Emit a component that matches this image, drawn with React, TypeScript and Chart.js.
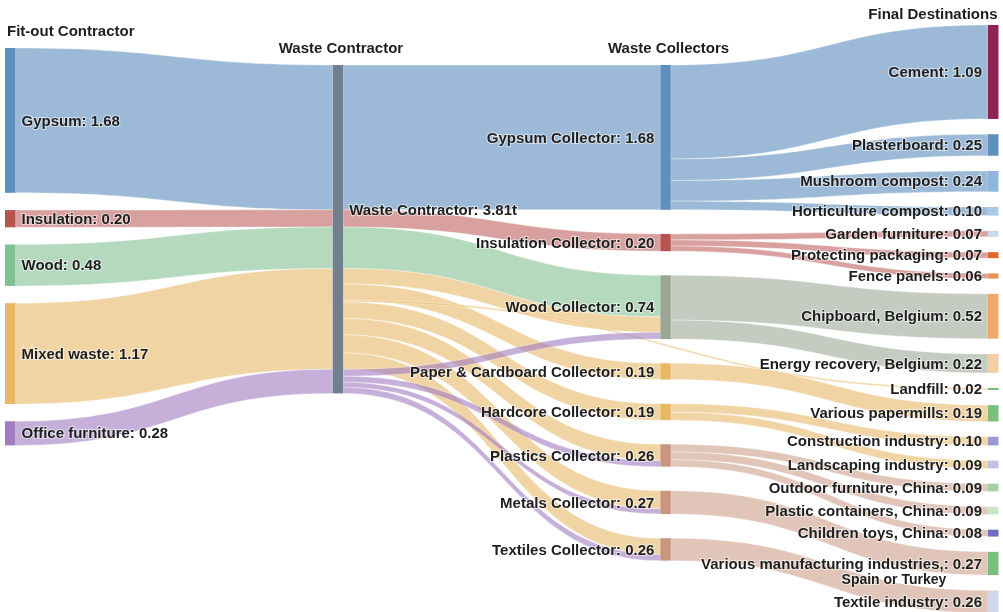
import React, { useEffect, useRef } from "react";
import { Chart, registerables } from "chart.js";

Chart.register(...registerables);

// ---------- DATA ----------
const columnTitles = ["Fit-out Contractor", "Waste Contractor", "Waste Collectors", "Final Destinations"];

const nodeLabels = [
  "Gypsum: 1.68", "Insulation: 0.20", "Wood: 0.48", "Mixed waste: 1.17", "Office furniture: 0.28",
  "Waste Contractor: 3.81t",
  "Gypsum Collector: 1.68", "Insulation Collector: 0.20", "Wood Collector: 0.74",
  "Paper & Cardboard Collector: 0.19", "Hardcore Collector: 0.19", "Plastics Collector: 0.26",
  "Metals Collector: 0.27", "Textiles Collector: 0.26",
  "Cement: 1.09", "Plasterboard: 0.25", "Mushroom compost: 0.24", "Horticulture compost: 0.10",
  "Garden furniture: 0.07", "Protecting packaging: 0.07", "Fence panels: 0.06",
  "Chipboard, Belgium: 0.52", "Energy recovery, Belgium: 0.22", "Landfill: 0.02",
  "Various papermills: 0.19", "Construction industry: 0.10", "Landscaping industry: 0.09",
  "Outdoor furniture, China: 0.09", "Plastic containers, China: 0.09", "Children toys, China: 0.08",
  "Various manufacturing industries,: 0.27\nSpain or Turkey", "Textile industry: 0.26",
];

const nodeColumns = [
  0, 0, 0, 0, 0,
  1,
  2, 2, 2, 2, 2, 2, 2, 2,
  3, 3, 3, 3, 3, 3, 3, 3, 3, 3, 3, 3, 3, 3, 3, 3, 3, 3,
];

const nodeColors = [
  "#5f8fbf", "#b85450", "#82c091", "#e8b865", "#a07cc0",
  "#717f8f",
  "#5f8fbf", "#b85450", "#9aa594", "#e8b865", "#e8b865", "#c9957f", "#c9957f", "#c9957f",
  "#91234f", "#5f8fbf", "#8db6da", "#a9c8e2", "#c6daee", "#dc6a2c", "#e99256", "#efa96e",
  "#f4cfa6", "#62b262", "#7cbf7c", "#9a9ad2", "#c0c0e6", "#a2d2a2", "#c8e6c8", "#6e6ebe",
  "#7cbf7c", "#d2d6ea",
];

const linkSource = [0, 1, 2, 3, 4, 5, 5, 5, 5, 5, 5, 5, 5, 5, 5, 5, 5, 5, 5, 6, 6, 6, 6, 7, 7, 7, 8, 8, 9, 10, 10, 11, 11, 11, 12, 13];
const linkTarget = [5, 5, 5, 5, 5, 6, 7, 8, 8, 9, 23, 10, 11, 12, 13, 8, 11, 12, 13, 14, 15, 16, 17, 18, 19, 20, 21, 22, 24, 25, 26, 27, 28, 29, 30, 31];
const linkValues = [1.68, 0.2, 0.48, 1.17, 0.28, 1.68, 0.2, 0.48, 0.18, 0.19, 0.02, 0.19, 0.19, 0.21, 0.19, 0.08, 0.07, 0.06, 0.07, 1.09, 0.25, 0.24, 0.1, 0.07, 0.07, 0.06, 0.52, 0.22, 0.19, 0.1, 0.09, 0.09, 0.09, 0.08, 0.27, 0.26];
const linkKinds = [
  "gyp", "ins", "wood", "mixed", "office",
  "gyp", "ins", "wood", "mixed", "mixed", "mixed", "mixed", "mixed", "mixed", "mixed",
  "office", "office", "office", "office",
  "gyp", "gyp", "gyp", "gyp", "ins", "ins", "ins", "woodc", "woodc",
  "mixed", "mixed", "mixed", "plast", "plast", "plast", "plast", "plast",
];

// ---------- STYLE / LAYOUT ----------
const linkColors: Record<string, string> = {
  gyp: "rgba(95,143,191,0.62)",
  ins: "rgba(184,84,80,0.55)",
  wood: "rgba(130,192,145,0.6)",
  mixed: "rgba(232,184,101,0.6)",
  office: "rgba(160,124,192,0.6)",
  woodc: "rgba(154,165,148,0.58)",
  plast: "rgba(201,149,127,0.55)",
};
const columnTop = [0.557, 0.754, 0.754, 0.29]; // in tonnes from top
const columnGap = [0.2, 0, 0.28, 0.177];
const NODE_W = 10.5;
const FONT = "bold 15px 'Liberation Sans', Arial, sans-serif";
const TEXT_COLOR = "#1e1e1e";

function drawText(ctx: CanvasRenderingContext2D, text: string, x: number, y: number, align: CanvasTextAlign) {
  ctx.textAlign = align;
  ctx.lineWidth = 2;
  ctx.strokeStyle = "rgba(255,255,255,0.55)";
  ctx.strokeText(text, x, y);
  ctx.fillStyle = TEXT_COLOR;
  ctx.fillText(text, x, y);
}

const sankeyPlugin = {
  id: "sankeyDraw",
  afterDatasetsDraw(chart: any) {
    const ctx: CanvasRenderingContext2D = chart.ctx;
    const xs = chart.scales.x;
    const ys = chart.scales.y;
    const n = nodeLabels.length;

    // node values
    const inSum = new Array(n).fill(0);
    const outSum = new Array(n).fill(0);
    linkValues.forEach((v, i) => {
      outSum[linkSource[i]] += v;
      inSum[linkTarget[i]] += v;
    });
    const nodeVal = inSum.map((v, i) => Math.max(v, outSum[i]));

    // stack nodes per column
    const nodeTop = new Array(n).fill(0);
    const cursor = columnTop.slice();
    for (let i = 0; i < n; i++) {
      const c = nodeColumns[i];
      nodeTop[i] = cursor[c];
      cursor[c] += nodeVal[i] + columnGap[c];
    }
    const px = (c: number) => xs.getPixelForValue(c);
    const py = (v: number) => ys.getPixelForValue(v);

    // links
    const srcOff = nodeTop.slice();
    const tgtOff = nodeTop.slice();
    ctx.save();
    linkValues.forEach((v, i) => {
      const s = linkSource[i];
      const t = linkTarget[i];
      const x0 = px(nodeColumns[s]) + NODE_W;
      const x1 = px(nodeColumns[t]);
      const sy0 = py(srcOff[s]);
      const sy1 = py(srcOff[s] + v);
      const ty0 = py(tgtOff[t]);
      const ty1 = py(tgtOff[t] + v);
      srcOff[s] += v;
      tgtOff[t] += v;
      const xm = (x0 + x1) / 2;
      ctx.beginPath();
      ctx.moveTo(x0, sy0);
      ctx.bezierCurveTo(xm, sy0, xm, ty0, x1, ty0);
      ctx.lineTo(x1, ty1);
      ctx.bezierCurveTo(xm, ty1, xm, sy1, x0, sy1);
      ctx.closePath();
      ctx.fillStyle = linkColors[linkKinds[i]];
      ctx.fill();
      ctx.lineWidth = 0.6;
      ctx.strokeStyle = "rgba(255,255,255,0.55)";
      ctx.stroke();
    });

    // nodes
    for (let i = 0; i < n; i++) {
      const x = px(nodeColumns[i]);
      const y0 = py(nodeTop[i]);
      const y1 = py(nodeTop[i] + nodeVal[i]);
      ctx.fillStyle = nodeColors[i];
      ctx.fillRect(x, y0, NODE_W, Math.max(1.2, y1 - y0));
    }

    // labels
    ctx.font = FONT;
    ctx.textBaseline = "middle";
    for (let i = 0; i < n; i++) {
      const c = nodeColumns[i];
      const x = px(c);
      let yc = py(nodeTop[i] + nodeVal[i] / 2);
      if (c === 1) yc -= 19;
      const lines = nodeLabels[i].split("\n");
      if (c <= 1) {
        drawText(ctx, lines[0], x + NODE_W + 6, yc + 1, "left");
      } else {
        const xr = x - 6;
        drawText(ctx, lines[0], xr, yc + 1, "right");
        if (lines.length > 1) {
          const w = ctx.measureText(lines[0]).width;
          ctx.font = "bold 14px 'Liberation Sans', Arial, sans-serif";
          drawText(ctx, lines[1], xr - w / 2, yc + 17, "left");
          ctx.font = FONT;
        }
      }
    }

    // column titles
    columnTitles.forEach((t, c) => {
      const x = px(c);
      const top = py(columnTop[c]);
      ctx.fillStyle = TEXT_COLOR;
      if (c === 0) {
        ctx.textAlign = "left";
        ctx.fillText(t, x + 2, top - 16);
      } else if (c === 3) {
        ctx.textAlign = "right";
        ctx.fillText(t, x + NODE_W - 1, top - 10);
      } else {
        ctx.textAlign = "center";
        ctx.fillText(t, x + NODE_W / 2 + 3, top - 16);
      }
    });
    ctx.restore();
  },
};

export default function App() {
  const canvasRef = useRef<HTMLCanvasElement | null>(null);
  useEffect(() => {
    if (!canvasRef.current) return;
    const chart = new Chart(canvasRef.current, {
      type: "scatter",
      data: { datasets: [{ data: [], pointRadius: 0 }] },
      options: {
        animation: false,
        responsive: true,
        maintainAspectRatio: false,
        layout: { padding: 0 },
        scales: {
          x: { type: "linear", min: -0.01526, max: 3.0458, display: false },
          y: { type: "linear", min: 0, max: 7.1, reverse: true, display: false },
        },
        plugins: { legend: { display: false }, tooltip: { enabled: false } },
      },
      plugins: [sankeyPlugin],
    } as any);
    return () => chart.destroy();
  }, []);
  return (
    <div style={{ position: "absolute", left: 0, top: 0, width: 1003, height: 612, background: "#fff" }}>
      <canvas ref={canvasRef} />
    </div>
  );
}
